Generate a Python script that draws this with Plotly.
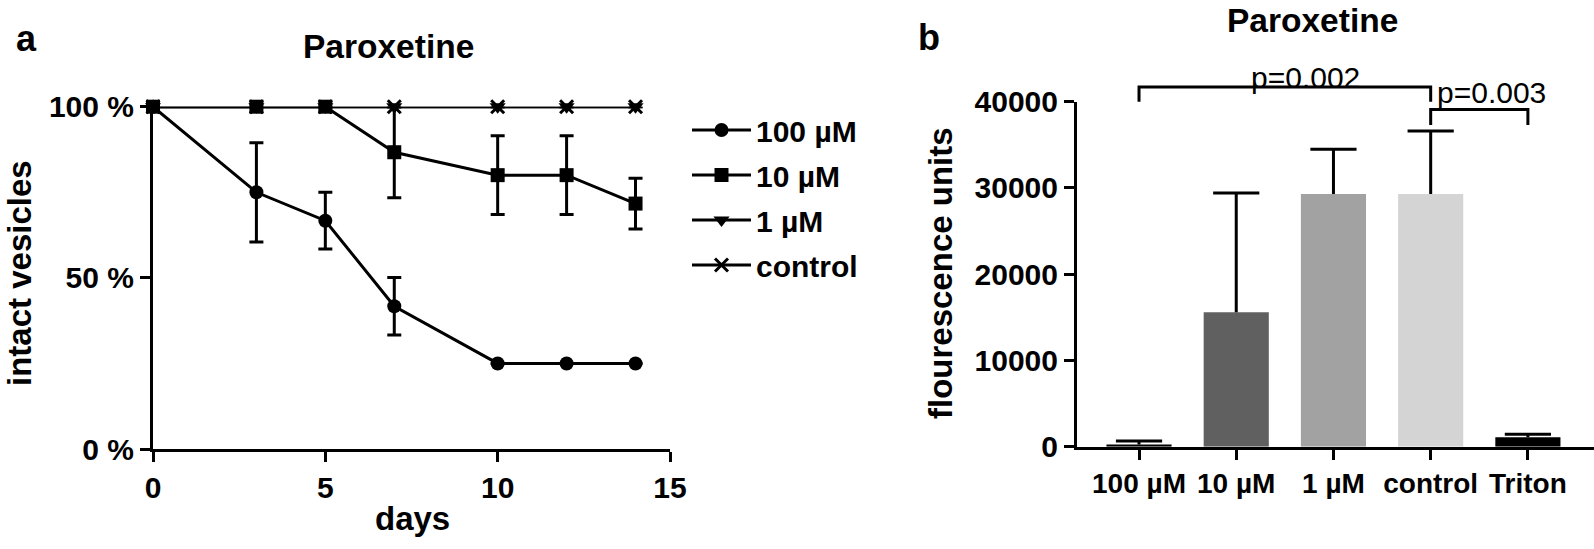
import plotly.graph_objects as go

# ---------------- data: panel a ----------------
days = [0, 3, 5, 7, 10, 12, 14]
series_names = ["100 µM", "10 µM", "1 µM", "control"]
vals_100uM = [100, 75, 66.7, 41.7, 25, 25, 25]
err_100uM = [0, 14.5, 8.3, 8.4, 0, 0, 0]
vals_10uM = [100, 100, 100, 86.7, 80, 80, 71.7]
err_10uM = [0, 0, 0, 13.3, 11.5, 11.5, 7.4]
vals_1uM = [100, 100, 100, 100, 100, 100, 100]
err_1uM = [0, 0, 0, 0, 0, 0, 0]
vals_control = [100, 100, 100, 100, 100, 100, 100]
err_control = [0, 0, 0, 0, 0, 0, 0]
x_ticks_a = [0, 5, 10, 15]
y_ticks_a = [0, 50, 100]
y_ticklabels_a = ["0 %", "50 %", "100 %"]

# ---------------- data: panel b ----------------
categories = ["100 µM", "10 µM", "1 µM", "control", "Triton"]
bar_values = [250, 15600, 29300, 29300, 1100]
bar_errors = [400, 13800, 5200, 7300, 330]
bar_colors = ["#000000", "#606060", "#a2a2a2", "#d4d4d4", "#000000"]
y_ticks_b = [0, 10000, 20000, 30000, 40000]
# significance brackets (category index, values in fluorescence units)
bracket_left = [0, 3]
bracket_right = [3, 4]
bracket_top = [41700, 39100]
bracket_end = [40000, 37300]
bracket_labels = ["p=0.002", "p=0.003"]
bracket_label_x = [1.71, 3.63]
bracket_label_y = [42800, 41125]

W, H = 1594, 549
FONT = "Liberation Sans, Arial, sans-serif"

def px_x(p):
    return p / W

def px_y(p):
    return 1 - p / H

fig = go.Figure()

symbols = ["circle", "square", "triangle-down", "x-thin"]
vals = [vals_100uM, vals_10uM, vals_1uM, vals_control]
errs = [err_100uM, err_10uM, err_1uM, err_control]
for i, (name, v, e, sym) in enumerate(zip(series_names, vals, errs, symbols)):
    fig.add_trace(go.Scatter(
        x=days, y=v, name=name, mode="lines+markers", legendgroup=f"g{i}",
        line=dict(color="black", width=3),
        marker=dict(symbol=sym, size=14 if sym != "x-thin" else 13, color="black",
                    line=dict(color="black", width=3 if sym == "x-thin" else 0)),
        error_y=dict(type="data", array=e, visible=True, color="black",
                     thickness=3, width=7),
        cliponaxis=False, xaxis="x", yaxis="y",
    ))

cat_idx = list(range(len(categories)))
fig.add_trace(go.Bar(
    x=cat_idx, y=bar_values, width=0.67,
    marker=dict(color=bar_colors, line=dict(width=0)),
    error_y=dict(type="data", symmetric=False, array=bar_errors,
                 arrayminus=[0] * len(bar_errors), visible=True,
                 color="black", thickness=3, width=0),
    showlegend=False, xaxis="x2", yaxis="y2", cliponaxis=False,
))
# upper caps of the (one-sided) error bars
fig.add_trace(go.Scatter(
    x=cat_idx, y=[v + e for v, e in zip(bar_values, bar_errors)], mode="markers",
    marker=dict(symbol="line-ew", size=33, color="black",
                line=dict(color="black", width=3)),
    cliponaxis=False, showlegend=False, hoverinfo="skip", xaxis="x2", yaxis="y2",
))

# brackets live on a hidden overlay subplot (same value scale, taller domain)
for xl, xr, yt, ye in zip(bracket_left, bracket_right, bracket_top, bracket_end):
    fig.add_trace(go.Scatter(
        x=[xl, xl, xr, xr], y=[ye, yt, yt, ye], mode="lines",
        line=dict(color="black", width=3), cliponaxis=False,
        showlegend=False, hoverinfo="skip", xaxis="x3", yaxis="y3",
    ))

axis_common = dict(
    showline=True, linecolor="black", linewidth=3, ticks="outside",
    ticklen=10, tickwidth=3, tickcolor="black", showgrid=False,
    zeroline=False, automargin=False,
    tickfont=dict(family=FONT, size=30, color="black", weight="bold"),
)
hidden = dict(visible=False, showgrid=False, zeroline=False, automargin=False)

Y0_B, Y40K_B = 446.7, 101.7
px_per_unit_b = (Y0_B - Y40K_B) / 40000.0
x2_range = [-0.638, 4.68]

fig.update_layout(
    width=W, height=H,
    margin=dict(l=0, r=0, t=0, b=0, autoexpand=False),
    template="none",
    plot_bgcolor="rgba(0,0,0,0)", paper_bgcolor="white",
    font=dict(family=FONT, color="black"),
    hovermode=False,
    xaxis=dict(domain=[px_x(153), px_x(670)], range=[0, 15], tickvals=x_ticks_a,
               anchor="y", **axis_common),
    yaxis=dict(domain=[px_y(449), px_y(106.7)], range=[0, 100], tickvals=y_ticks_a,
               ticktext=y_ticklabels_a, anchor="x", **axis_common),
    xaxis2=dict(domain=[px_x(1077), 1.0], range=x2_range,
                tickvals=cat_idx, ticktext=categories,
                anchor="y2", **{**axis_common,
                                "tickfont": dict(family=FONT, size=28, color="black", weight="bold")}),
    yaxis2=dict(domain=[px_y(Y0_B), px_y(Y40K_B)], range=[0, 40000], tickvals=y_ticks_b,
                tickformat="d", anchor="x2", **axis_common),
    xaxis3=dict(domain=[px_x(1077), 1.0], range=x2_range, anchor="y3", **hidden),
    yaxis3=dict(domain=[px_y(Y0_B), 1.0], range=[0, Y0_B / px_per_unit_b],
                anchor="x3", **hidden),
    legend=dict(x=px_x(687), xanchor="left", y=px_y(104), yanchor="top",
                font=dict(family=FONT, size=30, color="black", weight="bold"),
                itemwidth=59, bgcolor="rgba(0,0,0,0)", borderwidth=0,
                tracegroupgap=3),
    showlegend=True,
)

ann = []
def add_text(text, x, y, size, bold=True, angle=0, xref="paper", yref="paper"):
    ann.append(dict(text=text, x=x, y=y, xref=xref, yref=yref, showarrow=False,
                    xanchor="center", yanchor="middle", textangle=angle,
                    font=dict(family=FONT, size=size, color="black",
                              weight="bold" if bold else "normal")))

add_text("a", px_x(26), px_y(38), 36)
add_text("b", px_x(929), px_y(37), 36)
add_text("Paroxetine", px_x(388), px_y(46), 33.5)
add_text("Paroxetine", px_x(1312), px_y(20), 33.5)
add_text("intact vesicles", px_x(19), px_y(273), 33, angle=-90)
add_text("days", px_x(412), px_y(518), 33)
add_text("flourescence units", px_x(940), px_y(273), 33, angle=-90)
for t, lx, ly in zip(bracket_labels, bracket_label_x, bracket_label_y):
    add_text(t, lx, ly, 30, bold=False, xref="x3", yref="y3")

fig.update_layout(annotations=ann)
fig.write_html("out.html", config={"displayModeBar": False},
               post_script="document.body.style.margin='0';document.body.style.overflow='hidden';")
